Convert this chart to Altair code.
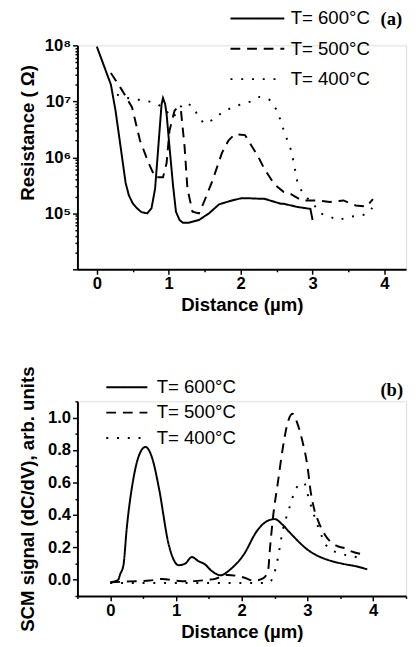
import altair as alt
import pandas as pd

series_names = ["T= 600°C", "T= 500°C", "T= 400°C"]

# ---------- Panel (a): Resistance (Ohm) vs distance (um) ----------
a600_d = [0.00, 0.195, 0.26, 0.33, 0.40, 0.445, 0.50, 0.56, 0.62, 0.70, 0.76, 0.81, 0.855, 0.90, 0.92,
          0.95, 0.97, 1.01, 1.06, 1.10, 1.15, 1.195, 1.28, 1.42, 1.50, 1.56, 1.70, 1.88, 2.01, 2.10,
          2.29, 2.33, 2.56, 2.60, 2.79, 2.97, 3.00]
a600_r = [9.5e7, 2.0e7, 6.8e6, 1.55e6, 3.5e5, 2.1e5, 1.5e5, 1.23e5, 1.05e5, 1.0e5, 1.23e5, 2.75e5, 1.55e6, 8.9e6, 1.15e7,
          8.9e6, 5.9e6, 1.55e6, 3.1e5, 1.07e5, 7.6e4, 6.8e4, 6.8e4, 7.6e4, 8.9e4, 1.0e5, 1.45e5, 1.7e5, 1.86e5, 1.86e5,
          1.82e5, 1.82e5, 1.48e5, 1.48e5, 1.3e5, 1.2e5, 7.6e4]

a500_d = [0.195, 0.33, 0.40, 0.49, 0.60, 0.72, 0.81, 0.92, 0.97, 1.01, 1.08, 1.12, 1.17, 1.22, 1.26,
          1.33, 1.42, 1.49, 1.60, 1.74, 1.83, 1.92, 2.06, 2.24, 2.33, 2.47, 2.60, 2.70, 2.85, 3.06,
          3.24, 3.43, 3.60, 3.75, 3.84]
a500_r = [3.2e7, 1.74e7, 1.23e7, 7.8e6, 2.0e6, 7.9e5, 4.4e5, 4.4e5, 7.9e5, 3.0e6, 6.8e6, 7.8e6, 6.8e6, 1.55e6, 2.75e5,
          1.07e5, 1.0e5, 1.6e5, 3.6e5, 1.2e6, 2.0e6, 2.6e6, 2.5e6, 1.05e6, 6.2e5, 3.3e5, 2.4e5, 2.2e5, 1.7e5, 1.7e5,
          1.6e5, 1.7e5, 1.38e5, 1.32e5, 1.8e5]

a400_d = [0.28, 0.42, 0.58, 0.72, 0.85, 1.01, 1.06, 1.15, 1.22, 1.33, 1.42, 1.49, 1.60, 1.74, 1.88,
          2.01, 2.15, 2.26, 2.40, 2.51, 2.60, 2.70, 2.74, 2.79, 2.88, 2.99, 3.11, 3.24, 3.36, 3.52,
          3.70, 3.79, 3.83]
a400_r = [1.32e7, 1.15e7, 1.07e7, 1.0e7, 8.9e6, 5.9e6, 5.1e6, 7.6e6, 9.5e6, 8.3e6, 5.2e6, 4.0e6, 4.6e6, 6.3e6, 7.8e6,
          8.9e6, 1.0e7, 1.2e7, 1.07e7, 6.8e6, 3.0e6, 1.35e6, 7.9e5, 3.5e5, 2.1e5, 1.6e5, 1.0e5, 8.7e4, 7.6e4, 8.7e4,
          9.3e4, 1.07e5, 1.26e5]

# ---------- Panel (b): SCM signal vs distance (um) ----------
b600_d = [0.00, 0.12, 0.15, 0.20, 0.25, 0.35, 0.45, 0.535, 0.645, 0.74, 0.89, 1.04, 1.14, 1.24, 1.34,
          1.44, 1.54, 1.68, 1.83, 2.03, 2.23, 2.33, 2.50, 2.62, 2.72, 3.02, 3.37, 3.52, 3.77, 3.91]
b600_v = [-0.016, 0.0, 0.034, 0.09, 0.316, 0.62, 0.78, 0.819, 0.74, 0.565, 0.215, 0.09, 0.10, 0.14, 0.115,
          0.095, 0.055, 0.028, 0.065, 0.155, 0.30, 0.346, 0.374, 0.34, 0.296, 0.18, 0.115, 0.1, 0.08, 0.064]

b500_d = [0.00, 0.30, 0.60, 0.79, 0.99, 1.20, 1.49, 1.58, 1.78, 2.03, 2.18, 2.33, 2.40, 2.43, 2.48,
          2.55, 2.62, 2.70, 2.77, 2.85, 2.92, 3.00, 3.05, 3.10, 3.17, 3.27, 3.47, 3.57, 3.67, 3.89]
b500_v = [-0.016, -0.01, -0.005, 0.005, -0.005, -0.01, 0.0, 0.004, 0.03, 0.014, -0.006, 0.01, 0.054, 0.195, 0.40,
          0.60, 0.80, 0.97, 1.024, 0.96, 0.86, 0.70, 0.54, 0.44, 0.356, 0.275, 0.205, 0.195, 0.175, 0.155]

b400_d = [0.00, 0.50, 1.00, 1.50, 2.00, 2.40, 2.48, 2.55, 2.62, 2.72, 2.82, 2.92, 2.96, 3.02, 3.12,
          3.19, 3.32, 3.52, 3.74, 3.88]
b400_v = [-0.02, -0.02, -0.02, -0.02, -0.02, -0.02, 0.02, 0.135, 0.296, 0.437, 0.557, 0.598, 0.59, 0.50, 0.376,
          0.296, 0.195, 0.16, 0.14, 0.13]

# ---------- tick lists ----------
xa_ticks = [0, 0.5, 1, 1.5, 2, 2.5, 3, 3.5, 4]
ya_ticks = [1e4, 2e4, 3e4, 4e4, 5e4, 6e4, 7e4, 8e4, 9e4,
            1e5, 2e5, 3e5, 4e5, 5e5, 6e5, 7e5, 8e5, 9e5,
            1e6, 2e6, 3e6, 4e6, 5e6, 6e6, 7e6, 8e6, 9e6,
            1e7, 2e7, 3e7, 4e7, 5e7, 6e7, 7e7, 8e7, 9e7, 1e8]
xb_ticks = [-0.5, 0, 0.5, 1, 1.5, 2, 2.5, 3, 3.5, 4, 4.5]
yb_ticks = [-0.1, 0.0, 0.1, 0.2, 0.3, 0.4, 0.5, 0.6, 0.7, 0.8, 0.9, 1.0, 1.1]

panel_labels = ["(a)", "(b)"]


def build(series):
    rows = []
    for name, xs, ys in series:
        for i, (x, y) in enumerate(zip(xs, ys)):
            rows.append({"series": name, "d": x, "v": y, "i": i})
    return pd.DataFrame(rows)


df_a = build([(series_names[0], a600_d, a600_r),
              (series_names[1], a500_d, a500_r),
              (series_names[2], a400_d, a400_r)])
df_b = build([(series_names[0], b600_d, b600_v),
              (series_names[1], b500_d, b500_v),
              (series_names[2], b400_d, b400_v)])

FONT = "Liberation Sans"
dash_range = [[1, 0], [10, 7], [2, 9]]

axis_common = dict(
    grid=False, domainColor="black", domainWidth=2, tickColor="black", tickWidth=1.5,
    labelFont=FONT, labelFontSize=17, labelFontWeight="bold", labelColor="black",
    titleFont=FONT, titleFontSize=19, titleFontWeight="bold", titleColor="black",
    labelOverlap=False, labelFlush=False,
)

line_a = alt.Chart(df_a).mark_line(color="black", strokeWidth=2).encode(
    x=alt.X("d:Q", title="Distance (µm)",
            scale=alt.Scale(domain=[-0.27, 4.3], nice=False, zero=False),
            axis=alt.Axis(values=xa_ticks,
                          labelExpr="datum.value % 1 == 0 ? format(datum.value, 'd') : ''",
                          tickSize={"condition": {"test": "datum.value % 1 == 0", "value": 5}, "value": 2.5},
                          titlePadding=4, **axis_common)),
    y=alt.Y("v:Q", title="Resistance ( Ω)",
            scale=alt.Scale(type="log", domain=[1e4, 1e8], nice=False),
            axis=alt.Axis(values=ya_ticks,
                          labelExpr="datum.value == 1e5 ? '10⁵' : datum.value == 1e6 ? '10⁶' : datum.value == 1e7 ? '10⁷' : datum.value == 1e8 ? '10⁸' : ''",
                          tickSize={"condition": {"test": "indexof([1e4, 1e5, 1e6, 1e7, 1e8], datum.value) >= 0", "value": 5}, "value": 2.5},
                          titleY=89, titlePadding=7, **axis_common)),
    strokeDash=alt.StrokeDash("series:N", sort=series_names, title=None,
                              scale=alt.Scale(domain=series_names, range=dash_range),
                              legend=alt.Legend(orient="none", legendX=152, legendY=-37,
                                                symbolType="M-1,0H10", symbolSize=100, symbolStrokeWidth=2,
                                                symbolStrokeColor="black", labelFont=FONT, labelFontSize=19,
                                                labelColor="black", labelOffset=47, rowPadding=11)),
    order="i:Q",
)
text_a = alt.Chart(pd.DataFrame({"label": [panel_labels[0]]})).mark_text(
    font="Liberation Serif", fontSize=19, fontWeight="bold", color="black", align="right", baseline="alphabetic"
).encode(text="label:N", x=alt.value(332), y=alt.value(-21))

chart_a = alt.layer(line_a, text_a).properties(width=336, height=229)

line_b = alt.Chart(df_b).mark_line(color="black", strokeWidth=2, interpolate="monotone").encode(
    x=alt.X("d:Q", title="Distance (µm)",
            scale=alt.Scale(domain=[-0.5, 4.5], nice=False, zero=False),
            axis=alt.Axis(values=xb_ticks,
                          labelExpr="datum.value % 1 == 0 ? format(datum.value, 'd') : ''",
                          tickSize={"condition": {"test": "datum.value % 1 == 0", "value": 5}, "value": 2.5},
                          titlePadding=4, **axis_common)),
    y=alt.Y("v:Q", title="SCM signal (dC/dV), arb. units",
            scale=alt.Scale(domain=[-0.1, 1.1], nice=False, zero=False),
            axis=alt.Axis(values=yb_ticks,
                          labelExpr="(datum.value >= -0.01 && datum.value <= 1.01 && round(datum.value * 10) % 2 == 0) ? format(datum.value, '.1f') : ''",
                          tickSize={"condition": {"test": "round(datum.value * 10) % 2 == 0", "value": 5}, "value": 2.5},
                          titlePadding=10, **axis_common)),
    strokeDash=alt.StrokeDash("series:N", sort=series_names, title=None,
                              scale=alt.Scale(domain=series_names, range=dash_range),
                              legend=alt.Legend(orient="none", legendX=25, legendY=-24,
                                                symbolType="M-1,0H7.4", symbolSize=100, symbolStrokeWidth=2,
                                                symbolStrokeColor="black", labelFont=FONT, labelFontSize=19,
                                                labelColor="black", labelOffset=37, rowPadding=6)),
    order="i:Q",
)
text_b = alt.Chart(pd.DataFrame({"label": [panel_labels[1]]})).mark_text(
    font="Liberation Serif", fontSize=19, fontWeight="bold", color="black", align="right", baseline="alphabetic"
).encode(text="label:N", x=alt.value(333), y=alt.value(-5))

chart_b = alt.layer(line_b, text_b).properties(width=336, height=199)

chart = alt.vconcat(chart_a, chart_b, spacing=51).resolve_scale(strokeDash="independent").properties(
    padding={"left": 10, "top": -7, "right": 0, "bottom": 0}
).configure_view(stroke=None).configure(background="white")

chart.save("out.html", embed_options={"renderer": "svg", "actions": False})
